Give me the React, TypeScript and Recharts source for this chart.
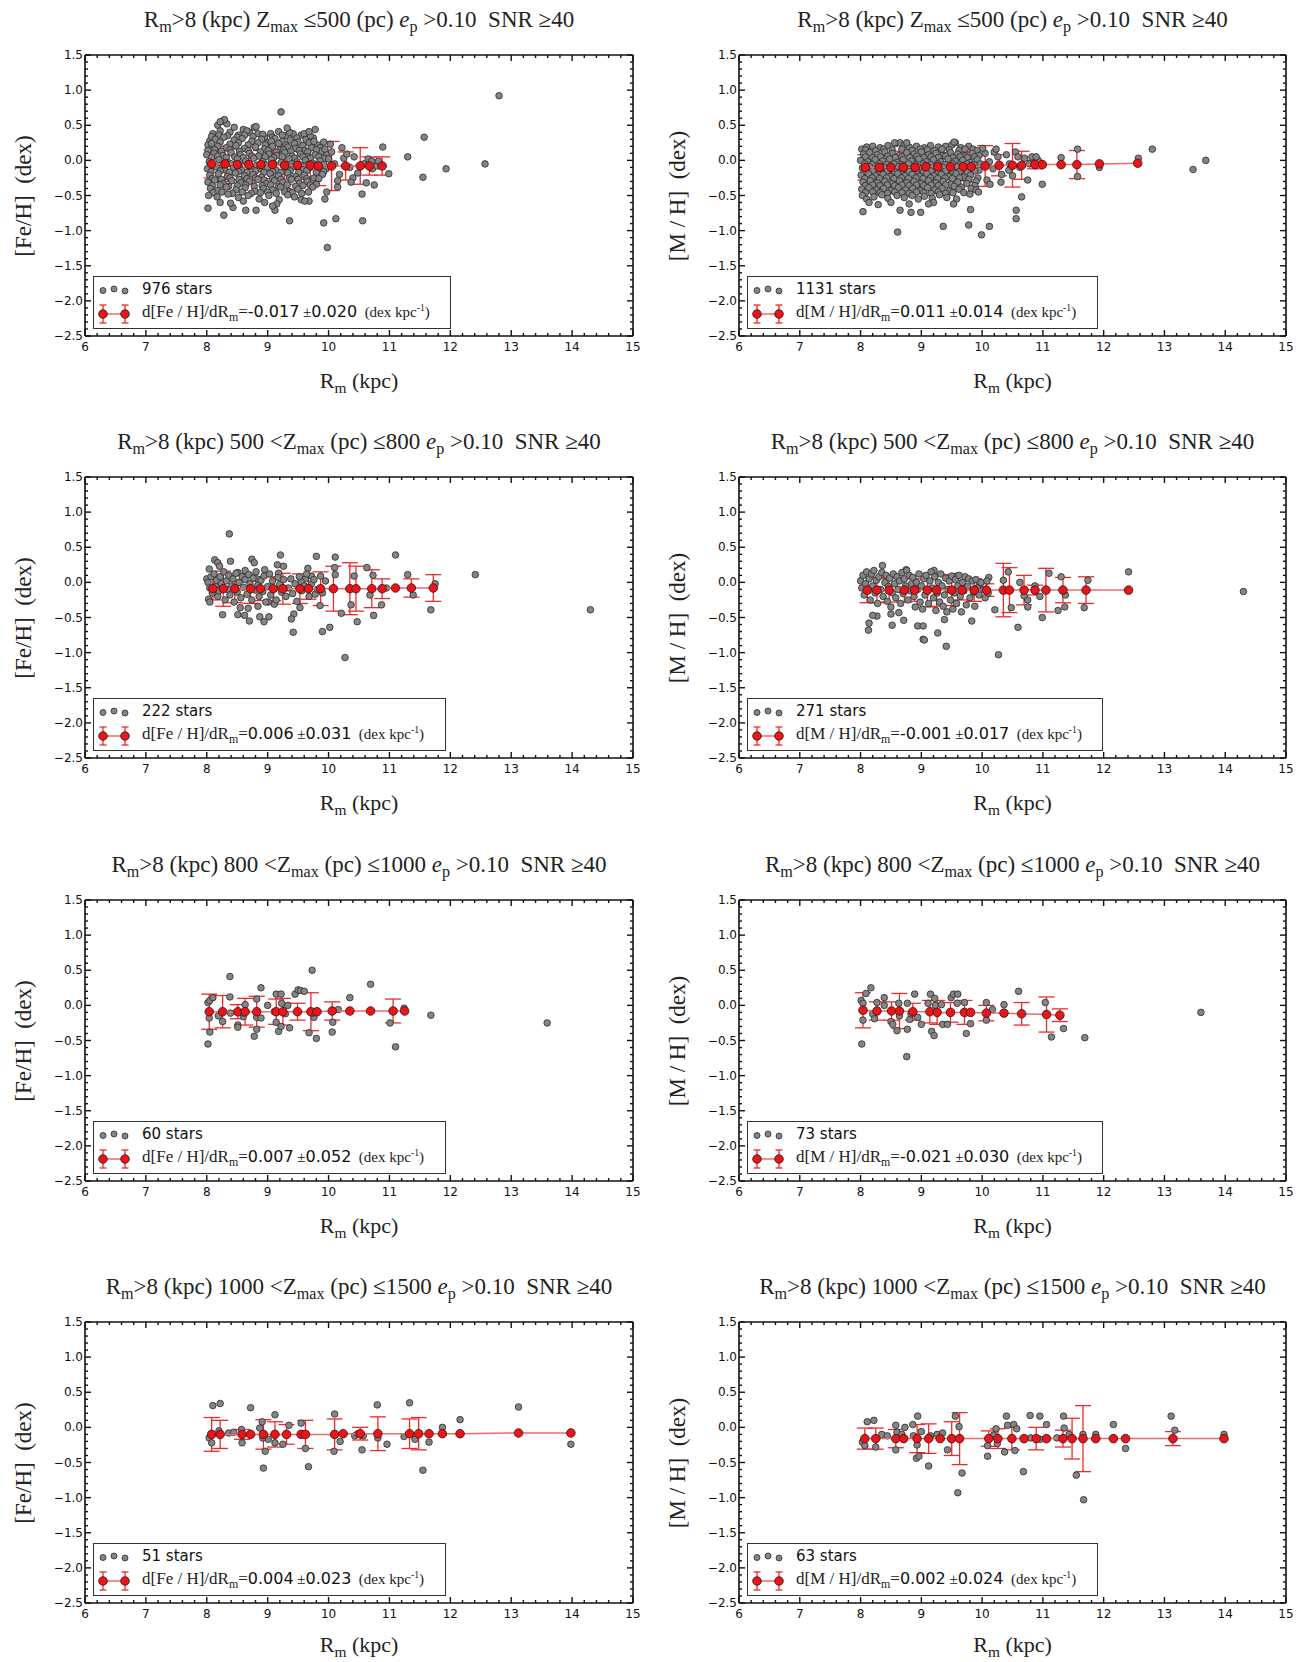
import React from 'react';
import { ScatterChart, Scatter, XAxis, YAxis, ErrorBar } from 'recharts';

type Star = [number, number];
type Bin = [number, number, number]; // R, mean, error

// ---- axes ----
const xMajor = [6, 7, 8, 9, 10, 11, 12, 13, 14, 15];
const yMajor = [-2.5, -2.0, -1.5, -1.0, -0.5, 0.0, 0.5, 1.0, 1.5];

// ---- panel labels ----
const zBins: [number | null, number][] = [[null, 500], [500, 800], [800, 1000], [1000, 1500]];
const feCounts = [976, 222, 60, 51];
const mhCounts = [1131, 271, 73, 63];
const feSlopes = [['-0.017', '0.020'], ['0.006', '0.031'], ['0.007', '0.052'], ['0.004', '0.023']];
const mhSlopes = [['0.011', '0.014'], ['-0.001', '0.017'], ['-0.021', '0.030'], ['0.002', '0.024']];

// ---- [Fe/H], Zmax <= 500 ----
const feStarsZ1: Star[] = [
  [8.18,0.50],[8.27,0.56],[8.33,0.52],[8.45,0.47],[8.60,0.44],[8.78,0.47],[8.70,0.40],
  [8.05,0.28],[8.10,0.38],[8.22,0.42],[8.38,0.40],[8.52,0.36],[8.66,0.42],[8.84,0.38],[8.95,0.33],[9.05,0.38],[9.18,0.41],[9.30,0.35],[9.42,0.38],[9.55,0.36],[9.63,0.30],[9.75,0.32],
  [8.08,0.34],[8.20,0.36],[8.34,0.35],[8.50,0.33],[8.62,0.36],[8.76,0.34],[8.92,0.37],[9.08,0.33],[9.24,0.36],[9.36,0.40],[9.48,0.32],[9.60,0.38],[9.70,0.35],
  [8.02,0.22],[8.14,0.30],[8.28,0.33],[8.45,0.29],[8.58,0.31],[8.74,0.27],[8.90,0.30],[9.00,0.25],[9.12,0.31],[9.24,0.27],[9.37,0.29],[9.50,0.26],[9.68,0.25],[9.82,0.22],[9.92,0.26],
  [8.08,0.24],[8.22,0.26],[8.38,0.23],[8.52,0.25],[8.68,0.22],[8.84,0.25],[8.96,0.22],[9.06,0.27],[9.18,0.24],[9.30,0.22],[9.44,0.24],[9.58,0.21],[9.76,0.27],[9.86,0.18],
  [8.06,0.15],[8.18,0.20],[8.32,0.18],[8.48,0.21],[8.62,0.17],[8.80,0.19],[8.95,0.16],[9.08,0.20],[9.20,0.15],[9.33,0.19],[9.46,0.17],[9.60,0.14],[9.72,0.18],[9.88,0.13],[9.97,0.09],
  [8.02,0.14],[8.13,0.15],[8.24,0.13],[8.38,0.15],[8.54,0.13],[8.68,0.14],[8.88,0.12],[9.01,0.14],[9.14,0.12],[9.26,0.15],[9.38,0.13],[9.52,0.14],[9.66,0.12],[9.80,0.15],[9.94,0.16],
  [8.00,0.08],[8.12,0.10],[8.26,0.07],[8.40,0.11],[8.55,0.08],[8.70,0.10],[8.85,0.06],[9.02,0.09],[9.15,0.07],[9.28,0.11],[9.40,0.06],[9.54,0.09],[9.66,0.05],[9.78,0.08],[9.93,0.03],
  [8.08,0.04],[8.18,0.06],[8.32,0.04],[8.46,0.05],[8.60,0.04],[8.74,0.06],[8.96,0.05],[9.10,0.04],[9.24,0.05],[9.44,0.03],[9.58,0.05],[9.70,0.03],[9.84,0.05],
  [8.04,-0.02],[8.20,0.01],[8.35,-0.03],[8.50,0.02],[8.64,-0.01],[8.77,0.03],[8.92,-0.02],[9.06,0.01],[9.22,-0.03],[9.35,0.02],[9.48,-0.02],[9.62,0.00],[9.74,-0.04],[9.86,-0.01],[10.00,0.02],
  [8.08,-0.06],[8.26,-0.07],[8.40,-0.05],[8.54,-0.06],[8.68,-0.05],[8.82,-0.07],[8.96,-0.06],[9.10,-0.05],[9.26,-0.07],[9.40,-0.05],[9.54,-0.07],[9.66,-0.06],[9.80,-0.07],[9.92,-0.06],
  [8.01,-0.12],[8.15,-0.09],[8.30,-0.13],[8.44,-0.10],[8.58,-0.14],[8.72,-0.09],[8.87,-0.12],[9.00,-0.10],[9.14,-0.14],[9.30,-0.11],[9.43,-0.09],[9.57,-0.13],[9.70,-0.10],[9.84,-0.15],[9.96,-0.12],
  [8.07,-0.16],[8.22,-0.15],[8.37,-0.17],[8.52,-0.16],[8.66,-0.17],[8.80,-0.15],[8.94,-0.17],[9.08,-0.16],[9.22,-0.17],[9.37,-0.15],[9.51,-0.17],[9.64,-0.15],[9.80,-0.17],[9.92,-0.16],
  [8.05,-0.21],[8.19,-0.19],[8.34,-0.23],[8.47,-0.18],[8.62,-0.22],[8.76,-0.20],[8.90,-0.24],[9.04,-0.19],[9.18,-0.22],[9.33,-0.18],[9.46,-0.23],[9.60,-0.21],[9.76,-0.25],[9.90,-0.20],
  [8.09,-0.26],[8.24,-0.27],[8.38,-0.25],[8.53,-0.27],[8.66,-0.26],[8.80,-0.25],[8.94,-0.28],[9.08,-0.26],[9.22,-0.27],[9.36,-0.25],[9.50,-0.27],[9.64,-0.26],[9.84,-0.26],
  [8.02,-0.31],[8.13,-0.28],[8.27,-0.33],[8.41,-0.29],[8.56,-0.32],[8.70,-0.30],[8.84,-0.27],[8.98,-0.33],[9.11,-0.29],[9.25,-0.31],[9.39,-0.27],[9.52,-0.33],[9.65,-0.30],[9.80,-0.34],
  [8.09,-0.36],[8.22,-0.35],[8.36,-0.37],[8.50,-0.36],[8.64,-0.35],[8.78,-0.37],[8.91,-0.36],[9.05,-0.35],[9.18,-0.37],[9.32,-0.35],[9.46,-0.37],[9.58,-0.36],[9.70,-0.35],
  [8.06,-0.40],[8.18,-0.43],[8.32,-0.38],[8.48,-0.42],[8.63,-0.39],[8.79,-0.44],[8.93,-0.40],[9.08,-0.42],[9.21,-0.38],[9.35,-0.44],[9.50,-0.41],[9.67,-0.45],[9.74,-0.38],
  [8.10,-0.46],[8.25,-0.45],[8.42,-0.47],[8.58,-0.45],[8.73,-0.47],[8.88,-0.46],[9.00,-0.45],[9.14,-0.47],[9.28,-0.45],[9.40,-0.46],[9.56,-0.47],
  [8.03,-0.50],[8.17,-0.52],[8.35,-0.48],[8.52,-0.53],[8.68,-0.50],[8.86,-0.55],[9.02,-0.50],[9.19,-0.56],[9.33,-0.49],[9.44,-0.52],
  [8.22,-0.60],[8.60,-0.58],[8.95,-0.60],[9.15,-0.62],
  [10.05,0.12],[10.10,-0.05],[10.18,-0.20],[10.25,0.03],[10.35,-0.10],[10.42,0.05],[10.48,-0.18],[10.58,-0.05],[10.65,0.02],[10.72,-0.12],[10.80,-0.08],[10.40,-0.25],[10.15,-0.38],[9.97,-0.45],
  [12.80,0.92],[9.22,0.69],[11.57,0.33],[11.30,0.05],[12.57,-0.05],[11.93,-0.12],[11.55,-0.24],[10.89,0.19],[10.99,-0.19],[10.75,-0.35],[10.62,-0.32],[10.55,-0.48],[10.56,-0.86],[10.12,-0.83],[9.92,-0.89],[9.98,-1.24],[9.94,-0.55],[9.36,-0.86],[9.12,-0.71],[9.08,-0.65],[8.81,-0.71],[8.64,-0.71],[8.43,-0.67],[8.39,-0.61],[8.28,-0.78],[8.02,-0.68],[9.55,-0.56],[9.68,-0.58],[9.61,-0.58],[10.22,0.18],[10.03,0.23],[10.30,0.09],[10.37,-0.31],[10.15,-0.29],[10.71,-0.01],[10.82,-0.01],[9.32,0.46],[9.78,0.44],[9.68,0.41],[8.29,0.58],[8.22,0.55],[8.81,0.48],
];
const feMeansZ1: Bin[] = [
  [8.08,-0.05,0.20],[8.30,-0.05,0.25],[8.50,-0.06,0.22],[8.69,-0.06,0.25],[8.89,-0.06,0.20],[9.08,-0.06,0.20],[9.28,-0.07,0.27],[9.49,-0.07,0.20],[9.70,-0.07,0.24],[9.83,-0.08,0.28],[10.05,-0.08,0.35],[10.28,-0.08,0.20],[10.52,-0.08,0.26],[10.67,-0.08,0.13],[10.88,-0.08,0.13],
];

// ---- [M/H], Zmax <= 500 ----
const mhStarsZ1: Star[] = [
  [8.02,0.16],[8.10,0.19],[8.20,0.20],[8.32,0.18],[8.45,0.21],[8.58,0.24],[8.65,0.25],[8.72,0.22],[8.80,0.19],[8.92,0.20],[9.05,0.18],[9.15,0.21],[9.28,0.19],[9.40,0.20],[9.50,0.22],[9.56,0.25],[9.65,0.18],[9.78,0.20],[9.85,0.16],
  [8.08,0.15],[8.25,0.14],[8.38,0.16],[8.52,0.15],[8.68,0.16],[8.85,0.14],[8.98,0.16],[9.10,0.15],[9.22,0.14],[9.34,0.16],[9.46,0.15],[9.62,0.14],[9.72,0.16],[9.92,0.14],
  [8.05,0.09],[8.15,0.11],[8.28,0.08],[8.40,0.12],[8.52,0.10],[8.63,0.07],[8.76,0.11],[8.88,0.09],[9.00,0.12],[9.12,0.08],[9.24,0.10],[9.36,0.07],[9.48,0.11],[9.60,0.09],[9.72,0.06],[9.84,0.10],[9.95,0.07],
  [8.08,0.05],[8.20,0.04],[8.33,0.05],[8.45,0.06],[8.57,0.04],[8.68,0.05],[8.81,0.04],[8.93,0.06],[9.04,0.04],[9.16,0.05],[9.28,0.04],[9.40,0.06],[9.52,0.04],[9.64,0.05],[9.76,0.04],[9.88,0.05],
  [8.00,0.00],[8.12,-0.02],[8.24,0.01],[8.36,-0.01],[8.48,0.02],[8.60,-0.03],[8.70,0.01],[8.84,-0.01],[8.96,0.02],[9.08,-0.02],[9.20,0.01],[9.32,-0.02],[9.44,0.02],[9.56,-0.01],[9.68,0.00],[9.80,-0.03],[9.92,0.01],
  [8.07,-0.05],[8.19,-0.06],[8.31,-0.05],[8.43,-0.06],[8.55,-0.05],[8.66,-0.06],[8.79,-0.05],[8.91,-0.06],[9.03,-0.05],[9.15,-0.06],[9.27,-0.05],[9.39,-0.06],[9.51,-0.05],[9.63,-0.06],[9.75,-0.05],[9.87,-0.06],[9.97,-0.05],
  [8.03,-0.11],[8.15,-0.09],[8.27,-0.12],[8.39,-0.10],[8.51,-0.13],[8.63,-0.09],[8.75,-0.12],[8.87,-0.10],[8.99,-0.13],[9.11,-0.09],[9.23,-0.12],[9.35,-0.10],[9.47,-0.13],[9.59,-0.09],[9.71,-0.12],[9.83,-0.10],[9.95,-0.14],
  [8.07,-0.16],[8.20,-0.15],[8.32,-0.16],[8.44,-0.15],[8.56,-0.16],[8.68,-0.15],[8.80,-0.16],[8.92,-0.15],[9.04,-0.16],[9.16,-0.15],[9.28,-0.16],[9.40,-0.15],[9.52,-0.16],[9.64,-0.15],[9.76,-0.16],[9.88,-0.15],
  [8.01,-0.21],[8.13,-0.19],[8.25,-0.22],[8.37,-0.20],[8.49,-0.23],[8.61,-0.19],[8.73,-0.22],[8.85,-0.20],[8.97,-0.23],[9.09,-0.19],[9.21,-0.22],[9.33,-0.20],[9.45,-0.23],[9.57,-0.19],[9.69,-0.24],[9.81,-0.21],[9.93,-0.25],
  [8.07,-0.26],[8.19,-0.25],[8.31,-0.26],[8.43,-0.25],[8.55,-0.26],[8.67,-0.25],[8.79,-0.26],[8.91,-0.25],[9.03,-0.26],[9.15,-0.25],[9.27,-0.26],[9.39,-0.25],[9.51,-0.26],[9.63,-0.25],[9.78,-0.27],[9.90,-0.30],
  [8.04,-0.31],[8.16,-0.29],[8.28,-0.32],[8.40,-0.30],[8.52,-0.33],[8.64,-0.29],[8.76,-0.32],[8.88,-0.30],[9.00,-0.33],[9.12,-0.29],[9.24,-0.32],[9.36,-0.30],[9.48,-0.34],[9.60,-0.31],[9.75,-0.33],[9.88,-0.36],
  [8.08,-0.36],[8.20,-0.35],[8.32,-0.36],[8.44,-0.35],[8.56,-0.36],[8.68,-0.35],[8.80,-0.36],[8.92,-0.35],[9.04,-0.36],[9.16,-0.35],[9.28,-0.36],[9.40,-0.35],[9.54,-0.37],[9.66,-0.38],[9.82,-0.40],
  [8.02,-0.41],[8.14,-0.39],[8.26,-0.42],[8.38,-0.40],[8.50,-0.43],[8.62,-0.39],[8.74,-0.42],[8.86,-0.40],[8.98,-0.43],[9.10,-0.39],[9.22,-0.42],[9.34,-0.40],[9.46,-0.44],[9.62,-0.41],[9.70,-0.46],[9.90,-0.42],
  [8.08,-0.46],[8.20,-0.45],[8.32,-0.46],[8.44,-0.47],[8.56,-0.45],[8.68,-0.46],[8.80,-0.47],[8.92,-0.45],[9.04,-0.46],[9.16,-0.47],[9.28,-0.45],[9.40,-0.47],[9.52,-0.46],[9.80,-0.48],
  [8.03,-0.50],[8.10,-0.55],[8.22,-0.52],[8.35,-0.49],[8.45,-0.54],[8.60,-0.50],[8.72,-0.53],[8.85,-0.50],[8.95,-0.55],[9.05,-0.51],[9.18,-0.54],[9.30,-0.49],[9.42,-0.53],[9.58,-0.55],
  [8.14,-0.60],[8.50,-0.60],[8.80,-0.62],[9.20,-0.60],
  [10.05,0.10],[10.12,-0.02],[10.18,-0.12],[10.26,0.05],[10.32,-0.20],[10.40,0.08],[10.45,-0.05],[10.55,0.12],[10.62,-0.10],[10.70,0.03],[10.78,-0.05],[10.92,0.00],[10.08,-0.28],[10.20,0.12],[10.50,-0.22],
  [12.80,0.16],[13.47,-0.13],[13.68,0.00],[12.57,0.03],[11.57,0.16],[11.57,-0.23],[11.93,-0.10],[11.30,0.04],[10.99,-0.34],[10.75,-0.28],[10.65,-0.52],[10.56,-0.71],[10.56,-0.83],[10.31,-0.31],[10.12,-0.94],[9.99,-1.06],[9.78,-0.92],[9.81,-0.70],[9.36,-0.94],[8.61,-1.02],[8.83,-0.74],[8.99,-0.74],[8.65,-0.71],[8.04,-0.73],[8.29,-0.63],[9.12,-0.62],[9.53,-0.62],[9.94,-0.45],[10.01,0.17],[10.23,0.16],[10.59,0.05],[10.82,0.05],[10.89,0.05],[10.44,-0.14],[10.13,-0.34],[9.54,0.26],[8.56,0.25],[8.76,0.25],
];
const mhMeansZ1: Bin[] = [
  [8.08,-0.10,0.18],[8.31,-0.10,0.16],[8.50,-0.10,0.16],[8.70,-0.10,0.23],[8.90,-0.10,0.18],[9.07,-0.09,0.18],[9.27,-0.09,0.20],[9.48,-0.09,0.17],[9.69,-0.09,0.20],[9.82,-0.09,0.22],[10.05,-0.08,0.29],[10.28,-0.07,0.15],[10.50,-0.07,0.31],[10.65,-0.07,0.20],[10.87,-0.06,0.06],[10.99,-0.06,0],[11.30,-0.06,0],[11.56,-0.06,0.20],[11.93,-0.05,0],[12.56,-0.04,0],
];

// ---- [Fe/H], 500 < Zmax <= 800 ----
const feStarsZ2: Star[] = [
  [8.37,0.69],[12.41,0.11],[14.30,-0.39],[11.68,-0.39],[11.75,-0.02],[11.10,0.39],[11.30,0.11],[11.39,-0.18],[10.95,-0.08],[10.87,-0.32],[10.74,-0.47],[10.73,0.10],[10.68,-0.18],[10.63,0.21],[10.47,-0.56],[10.42,0.09],[10.37,-0.32],[10.21,-0.44],[10.27,-1.07],[10.11,0.36],[10.10,0.21],[10.11,0.11],[10.02,-0.64],[9.90,-0.70],[9.86,-0.33],[9.80,0.37],[9.87,0.09],[9.72,0.09],[9.66,0.20],[9.62,0.05],[9.78,-0.17],[9.42,-0.71],[9.43,-0.45],[9.39,-0.52],[9.53,-0.36],[9.55,0.01],[9.21,0.39],[9.16,0.25],[9.26,0.23],[9.18,0.13],[9.02,-0.49],[8.94,-0.56],[8.87,-0.49],[8.70,-0.55],[8.62,-0.47],[8.51,-0.46],[8.26,-0.46],[8.74,0.33],[8.78,0.28],[8.95,0.18],[8.39,0.30],[8.13,0.32],[8.18,0.28],[8.21,0.23],[8.04,0.19],[8.00,0.05],[8.03,-0.24],[8.05,-0.28],[8.55,-0.36],[8.68,-0.37],[8.84,-0.34],[9.01,-0.28],[9.11,-0.31],[8.51,0.14],[8.63,0.17],[8.82,0.05],
  [8.02,0.00],[8.05,-0.08],[8.07,0.08],[8.09,-0.15],[8.12,0.12],[8.14,-0.05],[8.16,0.03],[8.18,-0.20],[8.20,-0.12],[8.22,0.08],[8.24,-0.02],[8.28,0.15],[8.30,-0.25],[8.32,0.02],[8.34,-0.10],[8.36,0.10],[8.38,-0.18],[8.41,-0.05],[8.43,0.05],[8.45,-0.28],[8.48,0.13],[8.50,-0.14],[8.53,0.00],[8.56,-0.22],[8.58,0.08],[8.60,-0.07],[8.63,0.04],[8.66,-0.17],[8.69,0.11],[8.71,-0.02],[8.74,-0.25],[8.76,0.06],[8.79,-0.11],[8.81,0.15],[8.84,-0.04],[8.86,-0.20],[8.89,0.03],[8.92,-0.13],[8.94,0.09],[8.97,-0.28],[9.00,-0.06],[9.03,0.12],[9.05,-0.18],[9.08,0.02],[9.11,-0.09],[9.14,-0.25],[9.17,0.07],[9.20,-0.03],[9.23,-0.14],[9.26,0.04],[9.30,-0.20],[9.34,-0.08],[9.38,0.05],[9.41,-0.16],[9.45,-0.02],[9.48,-0.27],[9.52,0.08],[9.56,-0.12],[9.60,-0.05],[9.64,0.12],[9.68,-0.20],[9.72,-0.02],[9.76,0.04],[9.82,-0.10],[9.90,-0.15],[9.95,0.02],
];
const feMeansZ2: Bin[] = [
  [8.10,-0.09,0.16],[8.27,-0.09,0.25],[8.46,-0.09,0.20],[8.72,-0.09,0.21],[8.88,-0.09,0.17],[9.09,-0.09,0.17],[9.25,-0.09,0.22],[9.53,-0.09,0.21],[9.67,-0.09,0.15],[9.87,-0.09,0.24],[10.08,-0.09,0.32],[10.35,-0.09,0.37],[10.45,-0.09,0.32],[10.71,-0.09,0.27],[10.88,-0.09,0.14],[11.10,-0.08,0],[11.36,-0.08,0.13],[11.72,-0.08,0.19],
];

// ---- [M/H], 500 < Zmax <= 800 ----
const mhStarsZ2: Star[] = [
  [14.30,-0.13],[12.41,0.15],[11.74,0.03],[11.68,-0.36],[11.36,-0.35],[11.37,-0.18],[11.30,0.08],[11.25,-0.40],[11.10,0.13],[10.99,-0.50],[10.95,-0.20],[10.87,-0.05],[10.75,-0.25],[10.75,-0.35],[10.59,-0.64],[10.62,0.00],[10.69,-0.19],[10.48,-0.36],[10.43,0.15],[10.35,0.03],[10.27,-1.03],[10.21,-0.39],[10.11,0.07],[10.09,-0.12],[9.96,-0.02],[9.83,-0.55],[9.41,-0.91],[9.27,-0.72],[9.03,-0.81],[9.05,-0.82],[8.94,-0.62],[9.03,-0.62],[9.38,-0.53],[8.71,-0.54],[8.52,-0.61],[8.50,-0.45],[8.63,-0.43],[8.27,-0.48],[8.20,-0.47],[8.14,-0.58],[8.13,-0.68],[8.36,0.24],[8.75,0.18],[9.21,0.17],[9.58,0.09],
  [8.00,0.02],[8.02,-0.08],[8.04,0.10],[8.06,-0.18],[8.08,-0.02],[8.10,0.15],[8.12,-0.12],[8.14,0.05],[8.16,-0.25],[8.18,0.12],[8.20,-0.05],[8.22,0.17],[8.24,-0.15],[8.26,0.03],[8.28,-0.30],[8.30,0.08],[8.33,-0.10],[8.35,0.14],[8.37,-0.20],[8.40,0.00],[8.42,0.10],[8.44,-0.27],[8.46,-0.06],[8.48,0.06],[8.50,-0.35],[8.52,-0.15],[8.54,0.12],[8.56,-0.02],[8.58,-0.22],[8.60,0.08],[8.62,-0.10],[8.64,0.02],[8.66,-0.30],[8.68,0.14],[8.70,-0.16],[8.72,0.05],[8.74,-0.05],[8.76,0.17],[8.78,-0.25],[8.80,0.10],[8.82,-0.12],[8.84,-0.02],[8.86,0.07],[8.88,-0.20],[8.90,-0.35],[8.92,0.00],[8.94,-0.10],[8.96,0.12],[8.98,-0.28],[9.00,-0.05],[9.02,-0.38],[9.04,0.05],[9.06,-0.18],[9.08,0.10],[9.10,-0.12],[9.12,-0.30],[9.14,0.02],[9.16,0.15],[9.18,-0.08],[9.20,-0.22],[9.22,0.08],[9.24,-0.40],[9.26,-0.15],[9.28,0.00],[9.30,-0.28],[9.32,0.12],[9.34,-0.05],[9.36,-0.34],[9.38,-0.18],[9.40,0.06],[9.42,-0.42],[9.44,-0.10],[9.46,0.02],[9.48,-0.25],[9.50,0.09],[9.52,-0.38],[9.54,-0.15],[9.56,0.04],[9.58,-0.30],[9.60,-0.05],[9.62,0.10],[9.64,-0.20],[9.66,-0.42],[9.68,0.00],[9.70,-0.12],[9.72,0.08],[9.74,-0.32],[9.76,-0.06],[9.78,0.05],[9.80,-0.22],[9.84,0.02],[9.86,-0.14],[9.88,-0.34],[9.90,0.04],[9.92,-0.08],[9.95,-0.18],[9.98,0.00],[10.02,-0.10],[10.05,-0.22],[10.08,0.02],[10.10,-0.15],
];
const mhMeansZ2: Bin[] = [
  [8.11,-0.11,0.18],[8.27,-0.11,0.18],[8.47,-0.11,0.17],[8.72,-0.11,0.17],[8.89,-0.11,0.16],[9.10,-0.11,0.24],[9.25,-0.11,0.23],[9.50,-0.11,0.22],[9.67,-0.11,0.14],[9.87,-0.11,0.16],[10.07,-0.11,0.09],[10.35,-0.11,0.38],[10.45,-0.11,0.32],[10.69,-0.11,0.21],[10.87,-0.11,0.07],[11.05,-0.11,0.31],[11.33,-0.11,0.18],[11.71,-0.11,0.19],[12.41,-0.11,0],
];

// ---- [Fe/H], 800 < Zmax <= 1000 ----
const feStarsZ3: Star[] = [
  [8.02,-0.55],[8.05,-0.38],[8.04,-0.18],[8.02,0.04],[8.05,0.07],[8.10,0.11],[8.19,-0.15],[8.26,-0.23],[8.38,0.41],[8.38,0.12],[8.39,-0.11],[8.51,-0.28],[8.51,-0.31],[8.60,-0.16],[8.63,0.01],[8.78,-0.44],[8.82,-0.34],[8.82,-0.17],[8.82,0.09],[8.89,-0.18],[8.89,0.25],[9.00,0.00],[9.14,0.16],[9.14,-0.24],[9.18,-0.37],[9.22,0.16],[9.22,-0.30],[9.23,0.03],[9.29,-0.12],[9.33,0.00],[9.36,-0.32],[9.45,0.16],[9.50,0.22],[9.54,0.21],[9.60,0.20],[9.68,-0.39],[9.73,0.50],[9.76,-0.17],[9.80,-0.47],[10.06,-0.38],[10.07,-0.24],[10.16,-0.06],[10.35,0.11],[10.69,0.30],[11.01,-0.25],[11.10,-0.59],[11.24,-0.04],[11.68,-0.14],[13.59,-0.25],[9.11,-0.09],[9.74,-0.11],[8.60,-0.11],
];
const feMeansZ3: Bin[] = [
  [8.04,-0.09,0.25],[8.26,-0.09,0.23],[8.51,-0.09,0.10],[8.63,-0.09,0.19],[8.82,-0.09,0.22],[9.14,-0.09,0.18],[9.25,-0.09,0.19],[9.49,-0.09,0.12],[9.71,-0.09,0.27],[9.81,-0.09,0],[10.06,-0.08,0.13],[10.35,-0.08,0],[10.69,-0.08,0],[11.06,-0.08,0.17],[11.25,-0.08,0],
];

// ---- [M/H], 800 < Zmax <= 1000 ----
const mhStarsZ3: Star[] = [
  [8.02,-0.55],[8.04,-0.21],[8.01,0.07],[8.04,0.03],[8.09,0.17],[8.17,0.25],[8.20,-0.12],[8.23,-0.19],[8.27,0.04],[8.39,0.11],[8.39,0.00],[8.50,-0.23],[8.53,-0.27],[8.60,-0.36],[8.63,0.03],[8.64,-0.15],[8.77,-0.34],[8.76,-0.73],[8.77,0.03],[8.81,-0.20],[8.83,-0.12],[8.89,0.16],[8.94,-0.17],[9.00,-0.27],[9.11,0.03],[9.15,0.16],[9.17,-0.37],[9.21,-0.43],[9.22,0.10],[9.23,0.00],[9.33,0.01],[9.35,-0.27],[9.43,-0.27],[9.49,0.11],[9.53,0.16],[9.60,0.16],[9.59,0.03],[9.71,0.04],[9.74,-0.40],[9.81,-0.26],[10.07,0.04],[10.07,-0.21],[10.17,-0.06],[10.36,0.01],[10.60,0.20],[11.04,0.04],[11.14,-0.45],[11.28,-0.15],[11.34,-0.33],[11.69,-0.46],[13.60,-0.10],
];
const mhMeansZ3: Bin[] = [
  [8.04,-0.07,0.25],[8.27,-0.08,0.13],[8.51,-0.08,0.13],[8.64,-0.08,0.25],[8.86,-0.09,0.12],[9.14,-0.09,0.16],[9.26,-0.10,0.17],[9.48,-0.10,0.14],[9.71,-0.10,0.17],[9.81,-0.10,0],[10.07,-0.11,0.11],[10.36,-0.11,0],[10.65,-0.12,0.16],[11.06,-0.13,0.25],[11.28,-0.14,0.09],
];

// ---- [Fe/H], 1000 < Zmax <= 1500 ----
const feStarsZ4: Star[] = [
  [8.04,-0.15],[8.08,-0.22],[8.10,0.31],[8.22,0.34],[8.20,-0.05],[8.36,-0.08],[8.44,-0.07],[8.57,-0.03],[8.58,-0.22],[8.72,0.28],[8.87,-0.01],[8.91,0.08],[8.93,-0.58],[8.96,-0.34],[9.01,-0.17],[8.92,-0.15],[9.12,0.18],[9.12,-0.22],[9.25,-0.24],[9.35,0.03],[9.55,0.06],[9.62,-0.30],[9.67,-0.56],[10.10,0.19],[10.09,-0.34],[10.19,-0.20],[10.43,-0.12],[10.48,-0.09],[10.55,-0.32],[10.57,-0.12],[10.80,0.32],[10.81,-0.15],[10.96,-0.24],[11.24,-0.13],[11.33,0.35],[11.42,-0.17],[11.55,-0.61],[11.65,-0.21],[11.87,0.00],[12.16,0.11],[13.12,0.29],[13.98,-0.24],
];
const feMeansZ4: Bin[] = [
  [8.08,-0.10,0.24],[8.22,-0.10,0.20],[8.58,-0.10,0.07],[8.72,-0.10,0],[8.93,-0.10,0.21],[9.12,-0.10,0.18],[9.31,-0.10,0.14],[9.55,-0.10,0],[9.62,-0.10,0.20],[10.10,-0.10,0.22],[10.24,-0.09,0],[10.52,-0.09,0.09],[10.81,-0.09,0.24],[11.33,-0.09,0.21],[11.48,-0.09,0.23],[11.65,-0.09,0],[11.87,-0.09,0],[12.16,-0.09,0],[13.12,-0.08,0],[13.98,-0.08,0],
];

// ---- [M/H], 1000 < Zmax <= 1500 ----
const mhStarsZ4: Star[] = [
  [8.03,-0.21],[8.07,-0.26],[8.11,0.08],[8.22,0.10],[8.25,-0.28],[8.35,-0.10],[8.44,-0.12],[8.58,0.03],[8.58,-0.32],[8.60,-0.07],[8.68,-0.10],[8.73,0.00],[8.86,0.04],[8.87,-0.12],[8.94,0.16],[8.93,-0.25],[8.92,-0.44],[8.96,-0.41],[9.00,-0.06],[9.12,-0.55],[9.15,-0.12],[9.26,-0.10],[9.35,-0.08],[9.43,-0.32],[9.56,0.16],[9.60,-0.93],[9.62,0.01],[9.67,-0.65],[10.09,-0.26],[10.09,-0.41],[10.19,-0.11],[10.23,-0.02],[10.25,-0.23],[10.37,-0.35],[10.40,0.16],[10.42,0.03],[10.52,0.04],[10.54,-0.33],[10.57,-0.02],[10.68,-0.63],[10.79,0.17],[10.80,-0.15],[10.95,0.16],[10.96,-0.17],[11.06,0.04],[11.23,-0.15],[11.34,0.16],[11.35,-0.01],[11.43,-0.10],[11.55,-0.68],[11.67,-1.03],[11.66,-0.10],[11.87,-0.10],[12.16,0.04],[12.36,-0.30],[13.11,0.16],[13.17,-0.04],[13.98,-0.10],
];
const mhMeansZ4: Bin[] = [
  [8.07,-0.16,0.15],[8.25,-0.16,0.15],[8.58,-0.16,0.13],[8.71,-0.16,0],[8.93,-0.16,0.20],[9.12,-0.16,0.21],[9.31,-0.16,0],[9.50,-0.16,0.24],[9.63,-0.16,0.37],[10.11,-0.16,0.11],[10.26,-0.16,0.14],[10.49,-0.16,0.16],[10.69,-0.16,0],[10.89,-0.16,0.16],[11.06,-0.16,0],[11.33,-0.16,0.12],[11.48,-0.16,0.29],[11.66,-0.16,0.47],[11.87,-0.16,0],[12.16,-0.16,0],[12.36,-0.16,0],[13.14,-0.16,0.10],[13.98,-0.16,0],
];

const feStars = [feStarsZ1, feStarsZ2, feStarsZ3, feStarsZ4];
const feMeans = [feMeansZ1, feMeansZ2, feMeansZ3, feMeansZ4];
const mhStars = [mhStarsZ1, mhStarsZ2, mhStarsZ3, mhStarsZ4];
const mhMeans = [mhMeansZ1, mhMeansZ2, mhMeansZ3, mhMeansZ4];

// ---- layout ----
const CHART_W = 652;
const CHART_H = 422;
const rowTops = [0, 422, 845, 1267];
const plotLefts = [85, 87];
const plotWidths = [548, 547];
const PLOT_TOP = 55;
const PLOT_H = 281;
const xLabelTops = [381, 381, 381, 378];
const legendWidths = [[358, 353, 353, 353], [351, 356, 356, 351]];

const SERIF = '"Liberation Serif", "DejaVu Serif", serif';
const SANS = '"DejaVu Sans", sans-serif';

// all tick positions: majors plus minor steps
const xTicks: number[] = [];
for (let i = 0; i <= 45; i++) xTicks.push(Math.round((6 + i * 0.2) * 10) / 10);
const yTicks: number[] = [];
for (let i = 0; i <= 40; i++) yTicks.push(Math.round((-2.5 + i * 0.1) * 10) / 10);

const isMajorX = (v: number) => xMajor.some((m) => Math.abs(m - v) < 1e-6);
const isMajorY = (v: number) => yMajor.some((m) => Math.abs(m - v) < 1e-6);
const fmtY = (v: number) => (v < -1e-9 ? '\u2212' : '') + Math.abs(v).toFixed(1);

const TICK_STROKE = '#111';

const BottomTick = (p: any) => {
  const major = isMajorX(p.payload.value);
  return (
    <g>
      <line x1={p.x} x2={p.x} y1={p.y} y2={p.y - (major ? 6 : 3)} stroke={TICK_STROKE} strokeWidth={1.4} />
      {major && (
        <text x={p.x} y={p.y + 15} textAnchor="middle" fontFamily={SANS} fontSize={12} fill="#111">
          {p.payload.value}
        </text>
      )}
    </g>
  );
};
const TopTick = (p: any) => {
  const major = isMajorX(p.payload.value);
  return <line x1={p.x} x2={p.x} y1={p.y} y2={p.y + (major ? 6 : 3)} stroke={TICK_STROKE} strokeWidth={1.4} />;
};
const LeftTick = (p: any) => {
  const major = isMajorY(p.payload.value);
  return (
    <g>
      <line x1={p.x} x2={p.x + (major ? 6 : 3)} y1={p.y} y2={p.y} stroke={TICK_STROKE} strokeWidth={1.4} />
      {major && (
        <text x={p.x - 2} y={p.y + 4} textAnchor="end" fontFamily={SANS} fontSize={12} fill="#111">
          {fmtY(p.payload.value)}
        </text>
      )}
    </g>
  );
};
const RightTick = (p: any) => {
  const major = isMajorY(p.payload.value);
  return <line x1={p.x} x2={p.x - (major ? 6 : 3)} y1={p.y} y2={p.y} stroke={TICK_STROKE} strokeWidth={1.4} />;
};

const StarDot = (p: any) => <circle cx={p.cx} cy={p.cy} r={3.3} fill="#858585" stroke="#2a2a2a" strokeWidth={0.8} />;
const MeanDot = (p: any) => <circle cx={p.cx} cy={p.cy} r={4.3} fill="#e8161b" stroke="#3a1010" strokeWidth={0.8} />;

const Sub = ({ children }: { children: React.ReactNode }) => (
  <span style={{ fontSize: '0.7em', position: 'relative', top: '0.3em' }}>{children}</span>
);

const Title = ({ bin }: { bin: number }) => {
  const [lo, hi] = zBins[bin];
  return (
    <>
      R<Sub>m</Sub>&gt;8 (kpc){' '}
      {lo == null ? (
        <>
          Z<Sub>max</Sub> ≤{hi} (pc)
        </>
      ) : (
        <>
          {lo} &lt;Z<Sub>max</Sub> (pc) ≤{hi}
        </>
      )}{' '}
      <i>e</i>
      <Sub>p</Sub> &gt;0.10&nbsp;&nbsp;SNR ≥40
    </>
  );
};

interface PanelProps {
  col: number;
  row: number;
}

const Panel: React.FC<PanelProps> = ({ col, row }) => {
  const isFe = col === 0;
  const stars = (isFe ? feStars : mhStars)[row].map(([x, y]) => ({ x, y }));
  const means = (isFe ? feMeans : mhMeans)[row].map(([x, y, err]) => ({ x, y, err }));
  const count = (isFe ? feCounts : mhCounts)[row];
  const [slope, slopeErr] = (isFe ? feSlopes : mhSlopes)[row];
  const L = plotLefts[col];
  const W = plotWidths[col];
  const marginRight = CHART_W - L - W;
  const marginBottom = CHART_H - PLOT_TOP - PLOT_H;
  const legW = legendWidths[col][row];
  const elem = isFe ? 'Fe/H' : 'M / H';
  const elemSpaced = isFe ? 'Fe / H' : 'M / H';

  return (
    <div style={{ position: 'absolute', left: col * CHART_W, top: rowTops[row], width: CHART_W, height: CHART_H }}>
      <ScatterChart
        width={CHART_W}
        height={CHART_H}
        margin={{ top: PLOT_TOP - 10, left: L - 30, right: marginRight - 10, bottom: marginBottom - 30 }}
      >
        <XAxis
          xAxisId="b"
          dataKey="x"
          type="number"
          domain={[6, 15]}
          allowDataOverflow
          ticks={xTicks}
          interval={0}
          height={30}
          tickSize={0}
          tickMargin={0}
          tickLine={false}
          tick={BottomTick}
          axisLine={{ stroke: '#111', strokeWidth: 1.6 }}
        />
        <XAxis
          xAxisId="t"
          orientation="top"
          dataKey="x"
          type="number"
          domain={[6, 15]}
          allowDataOverflow
          ticks={xTicks}
          interval={0}
          height={10}
          tickSize={0}
          tickMargin={0}
          tickLine={false}
          tick={TopTick}
          axisLine={{ stroke: '#111', strokeWidth: 1.6 }}
        />
        <YAxis
          yAxisId="l"
          dataKey="y"
          type="number"
          domain={[-2.5, 1.5]}
          allowDataOverflow
          ticks={yTicks}
          interval={0}
          width={30}
          tickSize={0}
          tickMargin={0}
          tickLine={false}
          tick={LeftTick}
          axisLine={{ stroke: '#111', strokeWidth: 1.6 }}
        />
        <YAxis
          yAxisId="r"
          orientation="right"
          dataKey="y"
          type="number"
          domain={[-2.5, 1.5]}
          allowDataOverflow
          ticks={yTicks}
          interval={0}
          width={10}
          tickSize={0}
          tickMargin={0}
          tickLine={false}
          tick={RightTick}
          axisLine={{ stroke: '#111', strokeWidth: 1.6 }}
        />
        <Scatter data={stars} xAxisId="b" yAxisId="l" shape={StarDot} isAnimationActive={false} />
        <Scatter
          data={means}
          xAxisId="b"
          yAxisId="l"
          shape={MeanDot}
          line={{ stroke: '#f06a6a', strokeWidth: 1.5 }}
          lineType="joint"
          isAnimationActive={false}
        >
          <ErrorBar dataKey="err" direction="y" width={8} stroke="#ee2a2a" strokeWidth={1.3} />
        </Scatter>
      </ScatterChart>

      {/* title */}
      <div
        style={{
          position: 'absolute',
          left: L + W / 2,
          top: 19,
          transform: 'translate(-50%, -50%)',
          whiteSpace: 'nowrap',
          fontFamily: SERIF,
          fontSize: 23,
          lineHeight: 1,
          color: '#222',
        }}
      >
        <Title bin={row} />
      </div>

      {/* y label */}
      <div
        style={{
          position: 'absolute',
          left: L - 62,
          top: PLOT_TOP + PLOT_H / 2,
          transform: 'translate(-50%, -50%) rotate(-90deg)',
          whiteSpace: 'nowrap',
          fontFamily: SERIF,
          fontSize: 23,
          lineHeight: 1,
          color: '#222',
        }}
      >
        [{elem}]&nbsp;&nbsp;(dex)
      </div>

      {/* x label */}
      <div
        style={{
          position: 'absolute',
          left: L + W / 2,
          top: xLabelTops[row],
          transform: 'translate(-50%, -50%)',
          whiteSpace: 'nowrap',
          fontFamily: SERIF,
          fontSize: 22,
          lineHeight: 1,
          color: '#222',
        }}
      >
        R<Sub>m</Sub> (kpc)
      </div>

      {/* legend */}
      <div
        style={{
          position: 'absolute',
          left: L + 8,
          top: PLOT_TOP + PLOT_H - 7 - 53,
          width: legW,
          height: 53,
          boxSizing: 'border-box',
          border: '1.3px solid #333',
          background: '#fff',
        }}
      >
        <svg width={48} height={52} style={{ position: 'absolute', left: 0, top: 0 }}>
          <circle cx={9} cy={13.5} r={3} fill="#858585" stroke="#2a2a2a" strokeWidth={0.8} />
          <circle cx={20} cy={12} r={3} fill="#858585" stroke="#2a2a2a" strokeWidth={0.8} />
          <circle cx={31} cy={14} r={3} fill="#858585" stroke="#2a2a2a" strokeWidth={0.8} />
          <line x1={9} x2={31} y1={37} y2={37} stroke="#f06a6a" strokeWidth={1.5} />
          {[9, 31].map((cx) => (
            <g key={cx}>
              <line x1={cx} x2={cx} y1={28} y2={46} stroke="#ee2a2a" strokeWidth={1.3} />
              <line x1={cx - 3.5} x2={cx + 3.5} y1={28} y2={28} stroke="#ee2a2a" strokeWidth={1.3} />
              <line x1={cx - 3.5} x2={cx + 3.5} y1={46} y2={46} stroke="#ee2a2a" strokeWidth={1.3} />
              <circle cx={cx} cy={37} r={4.3} fill="#e8161b" stroke="#3a1010" strokeWidth={0.8} />
            </g>
          ))}
        </svg>
        <div
          style={{
            position: 'absolute',
            left: 48,
            top: 3,
            fontFamily: SANS,
            fontSize: 15,
            color: '#111',
            whiteSpace: 'nowrap',
          }}
        >
          {count} stars
        </div>
        <div
          style={{
            position: 'absolute',
            left: 48,
            top: 25,
            whiteSpace: 'nowrap',
            color: '#222',
          }}
        >
          <span style={{ fontFamily: SERIF, fontSize: 17 }}>
            d[{elemSpaced}]/dR<Sub>m</Sub>=
          </span>
          <span style={{ fontFamily: SANS, fontSize: 16, color: '#111' }}>
            {slope}
            <span style={{ fontFamily: SERIF, fontSize: 15 }}> ±</span>
            {slopeErr}
          </span>
          <span style={{ fontFamily: SERIF, fontSize: 15 }}>
            &nbsp;&nbsp;(dex kpc<sup style={{ fontSize: '0.65em' }}>-1</sup>)
          </span>
        </div>
      </div>
    </div>
  );
};

const App: React.FC = () => {
  return (
    <div
      style={{
        position: 'absolute',
        left: 0,
        top: 0,
        width: 1304,
        height: 1662,
        background: '#fff',
        overflow: 'hidden',
      }}
    >
      {[0, 1, 2, 3].map((row) =>
        [0, 1].map((col) => <Panel key={`${row}-${col}`} col={col} row={row} />)
      )}
    </div>
  );
};

export default App;
